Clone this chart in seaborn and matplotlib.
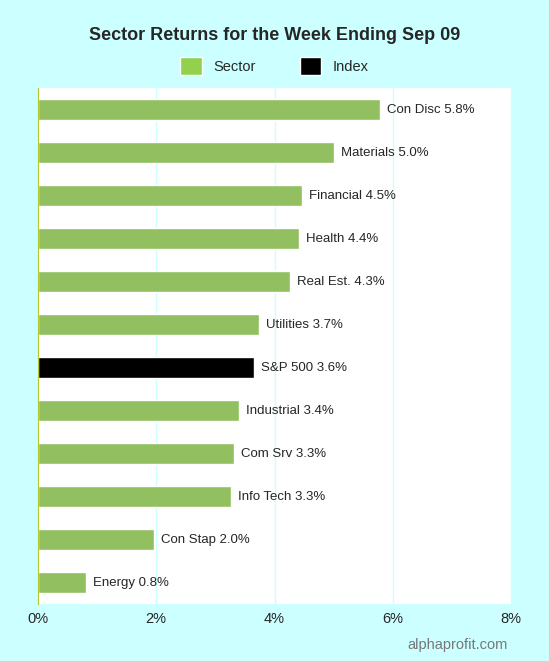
import numpy as np
import pandas as pd
import matplotlib.pyplot as plt
import seaborn as sns
from matplotlib.patches import Patch

# values
sectors = ['Con Disc', 'Materials', 'Financial', 'Health', 'Real Est.', 'Utilities',
           'S&P 500', 'Industrial', 'Com Srv', 'Info Tech', 'Con Stap', 'Energy']
returns = [5.79, 5.01, 4.47, 4.42, 4.26, 3.74, 3.65, 3.40, 3.32, 3.27, 1.96, 0.81]
kinds = ['Sector'] * 6 + ['Index'] + ['Sector'] * 5

df = pd.DataFrame({'name': sectors, 'ret': returns, 'kind': kinds})

GREEN = '#92d050'
BG = '#ccffff'

sns.set_style('white')
plt.rcParams['font.family'] = ['Liberation Sans', 'DejaVu Sans']

fig = plt.figure(figsize=(5.49, 6.61), dpi=100, facecolor=BG)
ax = fig.add_axes([38 / 549, 1 - 604 / 661, 473 / 549, 516 / 661])

sns.barplot(data=df, y='name', x='ret', hue='kind', palette={'Sector': GREEN, 'Index': 'black'},
            dodge=False, width=0.5, legend=False, ax=ax, orient='h')

for i, (n, v) in enumerate(zip(sectors, returns)):
    ax.text(v + 0.12, i, f'{n} {v:.1f}%', va='center', ha='left', fontsize=9.5)

ax.set_xlim(0, 8)
ax.set_ylim(11.5, -0.5)
ax.set_xticks([0, 2, 4, 6, 8])
ax.set_xticklabels(['0%', '2%', '4%', '6%', '8%'], fontsize=10.5)
ax.set_yticks([])
ax.set_xlabel('')
ax.set_ylabel('')
ax.grid(axis='x', color=BG, linewidth=1)
ax.set_axisbelow(True)
for s in ['top', 'right', 'bottom']:
    ax.spines[s].set_visible(False)
ax.spines['left'].set_color('#b5c832')
ax.tick_params(axis='x', length=0, pad=6)

fig.text(0.5, 1 - 35 / 661, 'Sector Returns for the Week Ending Sep 09', ha='center', va='center',
         fontsize=13, fontweight='bold')
handles = [Patch(facecolor=GREEN, label='Sector'), Patch(facecolor='black', label='Index')]
fig.legend(handles=handles, loc='center', bbox_to_anchor=(0.5, 1 - 66 / 661), ncol=2, frameon=False,
           fontsize=10.5, handlelength=1.5, handleheight=1.5, columnspacing=3)
fig.text(508 / 549, 1 - 645 / 661, 'alphaprofit.com', ha='right', va='center', fontsize=10.5, color='#777777')

fig.savefig('out.png', dpi=100, facecolor=BG)
